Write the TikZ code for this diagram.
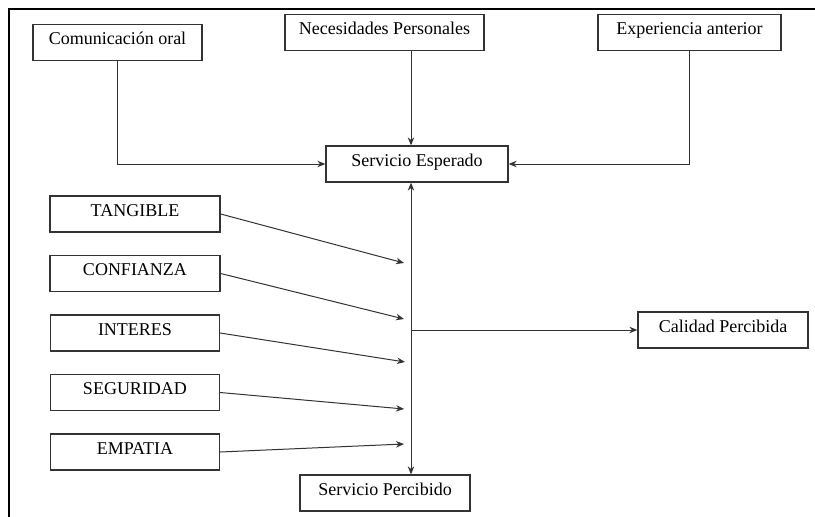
\documentclass[tikz,border=0pt]{standalone}
\usepackage{fontspec}
\setmainfont{Liberation Serif}
\usetikzlibrary{shapes.geometric, arrows, arrows.meta, calc, positioning}
\tikzstyle{box} = [rectangle, minimum width=169pt, minimum height=36pt, inner sep=0pt, text height=12pt, text depth=8pt, text centered, draw=black!80, line width=1.3pt]
\tikzstyle{arrow} = [line width=1pt, draw=black!80, ->, >={Stealth[length=8pt, width=6.5pt]}]

\begin{document}
\begin{tikzpicture}[x=1pt, y=-1pt, node distance=59.5pt, font=\fontsize{18}{20}\selectfont]
    \useasboundingbox (0,0) rectangle (815,517);
    \draw [line width=1.5pt] (9,517) -- (9,9) -- (815,9);

    \node (1) [box] at (117.5,42.5) {Comunicación oral};
    \node (2) [box, minimum width=199pt] at (384.5,32.5) {Necesidades Personales};
    \node (3) [box, minimum width=183pt] at (689.5,32.5) {Experiencia anterior};
    \node (4) [box, minimum width=182pt] at (417,164) {Servicio Esperado};

    \node (5) [box, minimum width=170pt] at (135,214) {TANGIBLE};
    \node (6) [box, minimum width=170pt, below of=5] {CONFIANZA};
    \node (7) [box, below of=6] {INTERES};
    \node (8) [box, below of=7] {SEGURIDAD};
    \node (9) [box, below of=8] {EMPATIA};

    \node (10) [box, minimum width=170pt] at (385,493) {Servicio Percibido};
    \node (11) [box, minimum width=170pt] at (723,330) {Calidad Percibida};

    \coordinate (axis) at (411,0);
    \coordinate (d5) at (404,263);
    \coordinate (d6) at (404,319);
    \coordinate (d7) at (405,362);
    \coordinate (d8) at (404,409);
    \coordinate (d9) at (404,444);

    \draw [arrow] (1.south) |- (4.west);
    \draw [arrow] (2.south -| axis) -- (4.north -| axis);
    \draw [arrow] (3.south) |- (4.east);
    \draw [arrow, <->] (4.south -| axis) -- (10.north -| axis);
    \draw [arrow] (11.west -| axis) -- (11.west);
    \draw [arrow] (5.east) -- (d5);
    \draw [arrow] (6.east) -- (d6);
    \draw [arrow] (7.east) -- (d7);
    \draw [arrow] (8.east) -- (d8);
    \draw [arrow] (9.east) -- (d9);
\end{tikzpicture}
\end{document}
